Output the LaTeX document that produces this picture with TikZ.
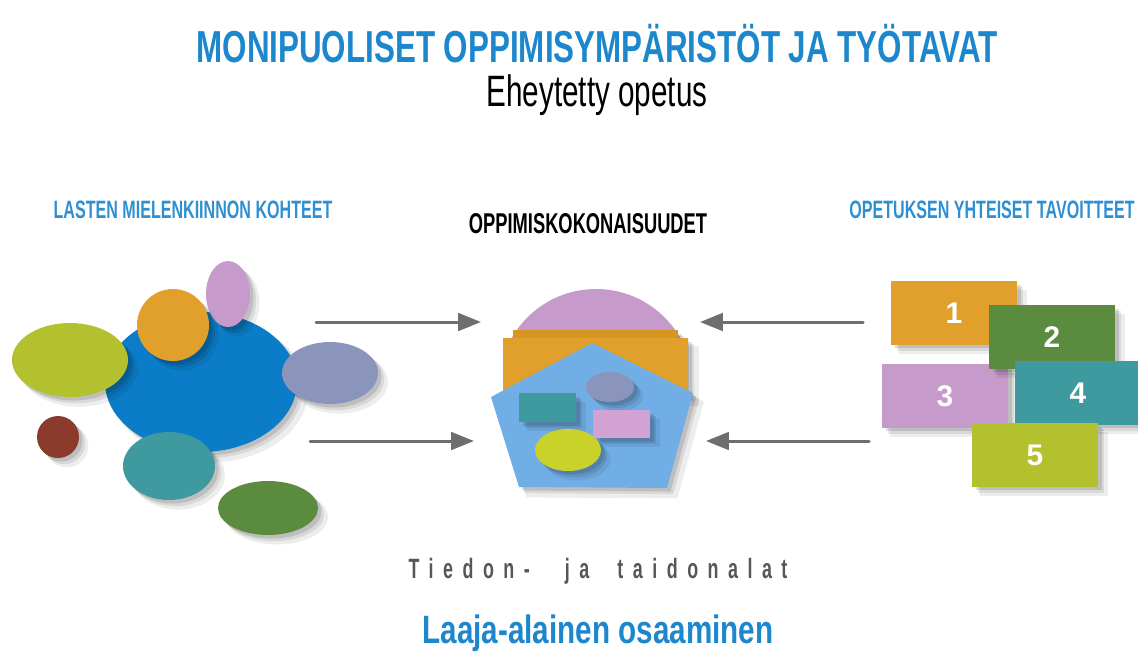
\documentclass[tikz,border=0pt]{standalone}
\usepackage{fontspec}
\setmainfont{Liberation Sans}
\newfontfamily\titlefont{Liberation Sans}[FakeStretch=0.70]
\newfontfamily\subfont{Liberation Sans}[FakeStretch=0.675]
\newfontfamily\headfont{Liberation Sans}[FakeStretch=0.64]
\newfontfamily\skillfont{Liberation Sans}[FakeStretch=0.75]
\usepackage{tikz}
\usetikzlibrary{arrows.meta,shadows}
\definecolor{titleblue}{HTML}{1C87CD}
\definecolor{headblue}{HTML}{2E8FD2}
\definecolor{darkgray}{HTML}{575757}
\definecolor{arrowgray}{HTML}{6E6E6E}
\definecolor{bigblue}{HTML}{0B7DC8}
\definecolor{lime}{HTML}{B4C12F}
\definecolor{amber}{HTML}{E1A02B}
\definecolor{amberdark}{HTML}{D6961F}
\definecolor{lilac}{HTML}{C69BCB}
\definecolor{periwinkle}{HTML}{8B95BB}
\definecolor{brown}{HTML}{8B3B2C}
\definecolor{teal}{HTML}{3F9A9F}
\definecolor{leaf}{HTML}{5B8B3E}
\definecolor{paleblue}{HTML}{72AEE6}
\definecolor{yellowish}{HTML}{C9D12B}
\definecolor{pink}{HTML}{D3A2D4}
\tikzset{
  Blob/.style={
    drop shadow={shadow xshift=5pt, shadow yshift=-5pt, shadow scale=1.02, opacity=0.07, fill=black},
    drop shadow={shadow xshift=3.5pt, shadow yshift=-3.5pt, opacity=0.09, fill=black},
    drop shadow={shadow xshift=2pt, shadow yshift=-2pt, opacity=0.12, fill=black}
  },
  GoalBox/.style={
    Blob, inner sep=0pt,
    minimum width=2.52cm, minimum height=1.27cm,
    text=white, font=\bfseries\fontsize{17}{17}\selectfont
  },
  FlowArrow/.style={
    draw=arrowgray, line width=1.7pt,
    -{Triangle[length=13pt,width=10pt]}
  },
  Heading/.style={
    anchor=base, inner sep=0pt,
    font=\headfont\bfseries\fontsize{14.3}{14.3}\selectfont
  }
}

\begin{document}
\begin{tikzpicture}[x=0.02cm, y=-0.02cm, line cap=round, line join=round]
  \useasboundingbox (0,0) rectangle (1138,664);

  % titles
  \node[anchor=base, inner sep=0pt, text=titleblue,
        font=\titlefont\bfseries\fontsize{25.5}{25.5}\selectfont]
    (title) at (597,62) {MONIPUOLISET OPPIMISYMPÄRISTÖT JA TYÖTAVAT};
  \node[anchor=base, inner sep=0pt,
        font=\subfont\fontsize{25}{25}\selectfont]
    (subtitle) at (597,106) {Eheytetty opetus};

  \node[Heading, text=headblue] (interests) at (193,218) {LASTEN MIELENKIINNON KOHTEET};
  \node[Heading, font=\headfont\bfseries\fontsize{16.3}{16.3}\selectfont] (units) at (588,233) {OPPIMISKOKONAISUUDET};
  \node[Heading, text=headblue] (goals) at (992,218) {OPETUKSEN YHTEISET TAVOITTEET};

  % left cluster
  \fill[Blob, bigblue] (201,382) ellipse [x radius=96, y radius=70];
  \fill[Blob, lilac] (228,294) ellipse [x radius=22, y radius=33];
  \fill[Blob, amber] (173,325) circle [radius=36];
  \fill[Blob, lime] (70,360) ellipse [x radius=58, y radius=37];
  \fill[Blob, periwinkle] (330,373) ellipse [x radius=48, y radius=31];
  \fill[Blob, teal] (169,466) ellipse [x radius=46, y radius=34];
  \fill[Blob, brown] (58,437) circle [radius=21];
  \fill[Blob, leaf] (268,508) ellipse [x radius=50, y radius=27];

  % centre emblem
  \begin{scope}
    \clip (480,250) rectangle (720,342);
    \fill[lilac] (596,386) circle [radius=97];
  \end{scope}
  \fill[Blob, amberdark] (513,330) rectangle (678,392);
  \fill[Blob, amber] (503,338) rectangle (688,396);
  \fill[Blob, paleblue] (592,343) -- (693,393) -- (667,488) -- (519,487) -- (491,397) -- cycle;
  \fill[Blob, teal] (519,393) rectangle (576,422);
  \fill[Blob, periwinkle] (610,387) ellipse [x radius=24, y radius=15];
  \fill[Blob, pink] (593,410) rectangle (650,438);
  \fill[Blob, yellowish] (568,450) ellipse [x radius=33, y radius=21];

  % right boxes
  \node[GoalBox, fill=amber] (g1) at (954,313) {1};
  \node[GoalBox, fill=lilac] (g3) at (945,396) {3};
  \node[GoalBox, fill=leaf] (g2) at (1052,337) {2};
  \node[GoalBox, fill=teal] (g4) at (1078,393) {4};
  \node[GoalBox, fill=lime] (g5) at (1035,455) {5};

  % arrows
  \coordinate (inA) at (316,322);
  \coordinate (inB) at (310,441);
  \coordinate (outA) at (863,322);
  \coordinate (outB) at (869,441);
  \coordinate (hubA) at (481,322);
  \coordinate (hubB) at (474,441);
  \coordinate (hubC) at (700,322);
  \coordinate (hubD) at (706,441);
  \draw[FlowArrow] (inA) -- (hubA);
  \draw[FlowArrow] (inB) -- (hubB);
  \draw[FlowArrow] (outA) -- (hubC);
  \draw[FlowArrow] (outB) -- (hubD);

  % bottom texts
  \node[anchor=base, inner sep=0pt, text=darkgray,
        font=\headfont\bfseries\fontsize{15.9}{15.9}\selectfont\addfontfeature{LetterSpace=34}]
    (subjects) at (598,578) {Tiedon-\hspace{20pt}ja\hspace{16pt}taidonalat};
  \node[anchor=base, inner sep=0pt, text=titleblue,
        font=\skillfont\bfseries\fontsize{22.5}{22.5}\selectfont]
    (skills) at (598,643) {Laaja-alainen osaaminen};
\end{tikzpicture}
\end{document}
